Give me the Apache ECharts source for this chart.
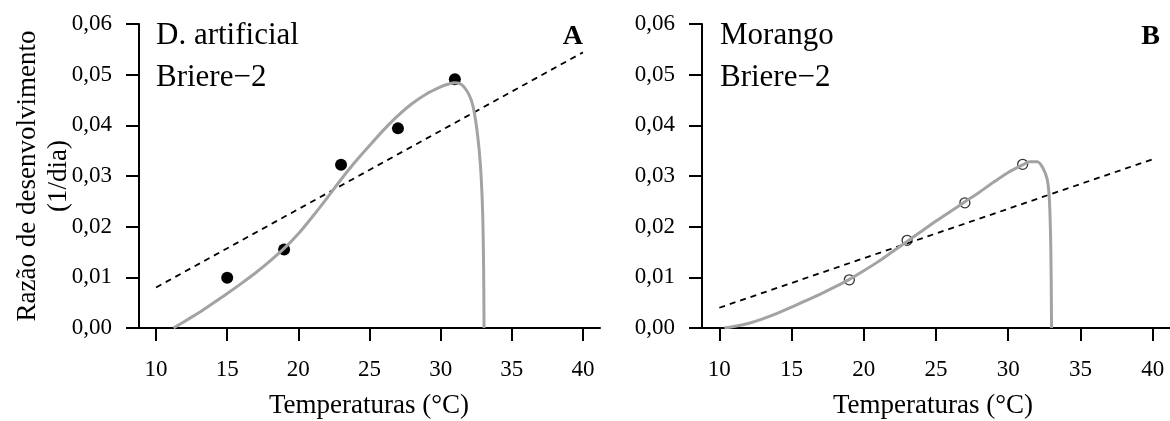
<!DOCTYPE html>
<html>
<head>
<meta charset="utf-8">
<script src="https://cdn.jsdelivr.net/npm/echarts@6/dist/echarts.min.js"></script>
<style>
    html, body { margin: 0; padding: 0; background: #fff; }
    #main { width: 1170px; height: 421px; }
</style>
</head>
<body>
<div id="main"></div>
<script>
// ticks
const xTicks = [10, 15, 20, 25, 30, 35, 40]
const yTicks = [0, 0.01, 0.02, 0.03, 0.04, 0.05, 0.06]

// A - dieta artificial
const dietObsT = [15, 19, 23, 27, 31]
const dietObsR = [0.0099, 0.0155, 0.0322, 0.0394, 0.0491]
const dietFitT = [11.23, 12, 13, 14, 15, 16, 17, 18, 19, 20, 21, 22, 23, 24, 25, 26, 27, 28, 29, 30, 30.5, 31, 31.5, 32, 32.3, 32.6, 32.8, 32.95, 33.02, 33.05]
const dietFitR = [0, 0.0013, 0.0030, 0.0049, 0.0068, 0.0088, 0.0109, 0.0132, 0.0157, 0.0186, 0.0220, 0.0256, 0.0293, 0.0328, 0.0360, 0.0391, 0.0419, 0.0443, 0.0462, 0.0476, 0.0481, 0.0484, 0.0480, 0.0460, 0.0435, 0.0380, 0.0320, 0.0230, 0.0120, 0]
const dietLinT = [10, 40]
const dietLinR = [0.0080, 0.0544]

// B - morango
const strawObsT = [19, 23, 27, 31]
const strawObsR = [0.0095, 0.0173, 0.0247, 0.0323]
const strawFitT = [10.35, 11, 12, 13, 14, 15, 16, 17, 18, 19, 20, 21, 22, 23, 24, 25, 26, 27, 28, 29, 30, 31, 31.5, 32, 32.4, 32.7, 32.85, 32.95, 33.0]
const strawFitR = [0, 0.0003, 0.0009, 0.0018, 0.0029, 0.0041, 0.0054, 0.0067, 0.0081, 0.0096, 0.0113, 0.0131, 0.0151, 0.0171, 0.0191, 0.0211, 0.0230, 0.0249, 0.0268, 0.0288, 0.0307, 0.0322, 0.0328, 0.0328, 0.0316, 0.0293, 0.0253, 0.0155, 0]
const strawLinT = [10, 40]
const strawLinR = [0.0040, 0.0333]

const zip = (a, b) => a.map((v, i) => [v, b[i]])

const serif = '"Liberation Serif", "DejaVu Serif", serif'
const fmt = (v) => v.toFixed(2).replace('.', ',')

const chart = echarts.init(document.getElementById('main'))

const makeX = (gi) => ({
    type: 'value',
    gridIndex: gi,
    min: 8.8,
    max: 41.2,
    splitLine: { show: false },
    axisLine: { onZero: false, lineStyle: { color: '#000', width: 2 } },
    axisTick: { customValues: xTicks, length: 13, lineStyle: { color: '#000', width: 2 } },
    axisLabel: { customValues: xTicks, margin: 30, color: '#000', fontFamily: serif, fontSize: 23 },
})
const makeY = (gi) => ({
    type: 'value',
    gridIndex: gi,
    min: yTicks[0],
    max: yTicks[yTicks.length - 1],
    interval: 0.01,
    splitLine: { show: false },
    axisLine: { show: true, lineStyle: { color: '#000', width: 2 } },
    axisTick: { show: true, length: 13, lineStyle: { color: '#000', width: 2 } },
    axisLabel: { margin: 27, color: '#000', fontFamily: serif, fontSize: 23, formatter: fmt },
})

const dashed = (gi, data) => ({
    type: 'line', xAxisIndex: gi, yAxisIndex: gi, data,
    showSymbol: false, silent: true,
    lineStyle: { color: '#000', width: 1.8, type: [6, 5] },
})
const fitted = (gi, data) => ({
    type: 'line', xAxisIndex: gi, yAxisIndex: gi, data,
    showSymbol: false, silent: true, smooth: 0.3,
    lineStyle: { color: '#a3a3a3', width: 3 },
})

const txt = (x, y, text, opts = {}) => ({
    type: 'text', x, y, rotation: opts.rotation || 0,
    style: {
        text,
        fill: '#000',
        font: `${opts.bold ? 'bold ' : ''}${opts.size || 27}px ${serif}`,
        textAlign: opts.align || 'left',
        textVerticalAlign: 'middle',
    },
})

chart.setOption({
    animation: false,
    grid: [
        { left: 139, top: 24, width: 461, height: 304 },
        { left: 702, top: 24, width: 477, height: 304 },
    ],
    xAxis: [makeX(0), makeX(1)],
    yAxis: [makeY(0), makeY(1)],
    series: [
        dashed(0, zip(dietLinT, dietLinR)),
        fitted(0, zip(dietFitT, dietFitR)),
        {
            type: 'scatter', xAxisIndex: 0, yAxisIndex: 0,
            data: zip(dietObsT, dietObsR), symbolSize: 12,
            itemStyle: { color: '#000', opacity: 1 },
        },
        dashed(1, zip(strawLinT, strawLinR)),
        fitted(1, zip(strawFitT, strawFitR)),
        {
            type: 'scatter', xAxisIndex: 1, yAxisIndex: 1,
            data: zip(strawObsT, strawObsR), symbolSize: 10,
            itemStyle: { color: 'rgba(255,255,255,0)', borderColor: '#333', borderWidth: 1.3, opacity: 1 },
        },
    ],
    graphic: [
        txt(156, 36, 'D. artificial', { size: 31 }),
        txt(156, 78, 'Briere\u22122', { size: 31 }),
        txt(583, 37, 'A', { size: 28, bold: true, align: 'right' }),
        txt(720, 36, 'Morango', { size: 31 }),
        txt(720, 78, 'Briere\u22122', { size: 31 }),
        txt(1160, 37, 'B', { size: 28, bold: true, align: 'right' }),
        txt(369, 406, 'Temperaturas (\u00b0C)', { align: 'center' }),
        txt(933, 406, 'Temperaturas (\u00b0C)', { align: 'center' }),
        txt(28, 176, 'Raz\u00e3o de desenvolvimento', { align: 'center', rotation: Math.PI / 2 }),
        txt(59, 176, '(1/dia)', { align: 'center', rotation: Math.PI / 2 }),
    ],
})
</script>
</body>
</html>
